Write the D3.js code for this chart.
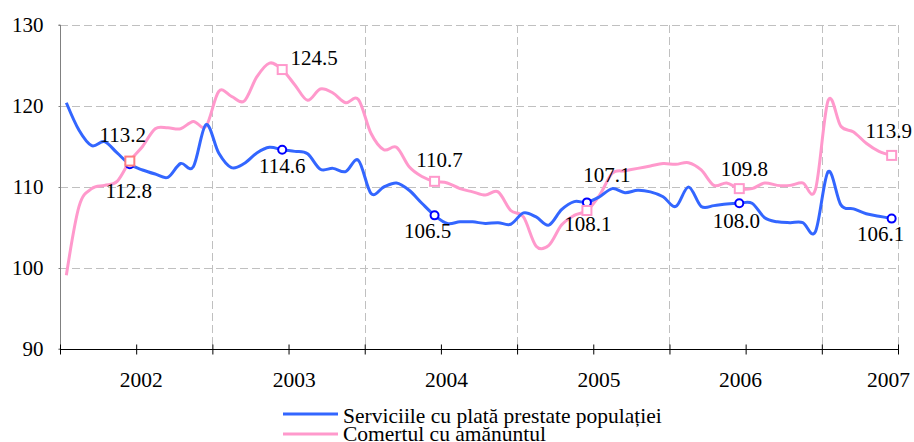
<!DOCTYPE html>
<html><head><meta charset="utf-8">
<script src="https://cdn.jsdelivr.net/npm/d3@7"></script>
<style>
body{margin:0;background:#fff;}
svg text{font-family:"Liberation Serif","Times New Roman",serif !important;fill:#000;}
</style>
</head><body>
<svg id="chart" width="914" height="442"></svg>
<script>
// ---- data ----
const serviceValues = [
  120.4,117.0,115.1,115.6,114.2,112.8,112.1,111.6,111.2,112.9,112.5,117.7,
  114.2,112.4,112.9,114.2,114.9,114.6,114.4,114.1,112.2,112.3,111.9,113.3,
  109.2,110.0,110.5,109.6,108.0,106.5,105.5,105.7,105.7,105.5,105.6,105.4,
  106.8,106.3,105.3,107.2,108.2,108.1,108.8,109.8,109.3,109.6,109.4,108.8,
  107.6,110.0,107.6,107.7,107.9,108.0,108.0,106.2,105.7,105.6,105.6,104.5,
  111.9,107.8,107.3,106.7,106.4,106.1
];
const retailValues = [
  99.1,107.6,109.8,110.2,110.7,113.2,115.0,117.2,117.3,117.2,118.1,117.5,
  121.8,121.2,120.6,123.6,125.3,124.5,122.6,120.7,122.1,121.6,120.4,120.8,
  116.6,114.6,114.9,112.5,111.3,110.7,110.5,109.8,109.4,109.0,109.4,107.1,
  106.3,102.7,102.8,105.3,106.5,107.1,109.0,111.7,112.0,112.3,112.6,112.9,
  112.8,113.0,112.1,110.2,110.5,109.8,109.8,110.5,110.2,110.2,110.5,109.7,
  120.7,117.5,116.8,115.4,114.4,113.9
];
const markerIndex = [5, 17, 29, 41, 53, 65];
const serviceLabels = ["112.8","114.6","106.5","108.1","108.0","106.1"];
const retailLabels  = ["113.2","124.5","110.7","107.1","109.8","113.9"];
const yearLabels = ["2002","2003","2004","2005","2006","2007"];
const yearLabelPos = [6.4, 18.45, 30.45, 42.45, 53.6, 65.25];
const yTicks = [90, 100, 110, 120, 130];
const seriesNames = ["Serviciile cu plată prestate populației", "Comertul cu amănuntul"];

// label placement offsets (px, relative to marker; baseline)
const serviceLabelOffset = [[-1,34],[0,23],[-7,23],[1,29],[-3,25],[-11,22]];
const retailLabelOffset  = [[-7,-19],[32,-5],[5,-14],[20,-28],[5,-13],[-3,-17]];

// ---- layout ----
const FONT = "'Liberation Serif', 'Times New Roman', serif";
const svg = d3.select("#chart");
const L = 60, R = 898, T = 25, B = 349;
const n = serviceValues.length;
const x = d3.scaleLinear().domain([0, n]).range([L, R]);
const xc = i => x(i + 0.5);
const y = d3.scaleLinear().domain([90, 130]).range([B, T]);

const blue = "#3366FF", pink = "#FF99CC";

// gridlines
const grid = svg.append("g").attr("stroke", "#C0C0C0").attr("stroke-width", 1)
  .attr("stroke-dasharray", "8,4").attr("fill", "none");
yTicks.filter(v => v > 90).forEach(v => {
  grid.append("line").attr("x1", L).attr("x2", R)
    .attr("y1", Math.round(y(v)) + 0.5).attr("y2", Math.round(y(v)) + 0.5);
});
d3.range(12, n + 1, 12).concat([n]).forEach(b => {
  grid.append("line").attr("x1", Math.round(x(b)) + 0.5).attr("x2", Math.round(x(b)) + 0.5)
    .attr("y1", T).attr("y2", B);
});

// y axis
const yAxis = d3.axisLeft(y).tickValues(yTicks).tickSize(2).tickPadding(15);
const gy = svg.append("g").attr("transform", `translate(${L + 0.5},0)`).call(yAxis)
  .attr("font-family", FONT);
gy.select(".domain").attr("stroke", "#808080").attr("d", `M-2,${T}H0V${B}H-2`);
gy.selectAll(".tick line").attr("stroke", "#808080");
gy.selectAll(".tick text").attr("font-size", 21).attr("font-family", FONT).attr("fill", "#000");

// x axis
const xAxis = d3.axisBottom(x).tickValues(d3.range(0, n + 1, 6)).tickSize(5).tickFormat("");
const gx = svg.append("g").attr("transform", `translate(0,${B + 0.5})`).call(xAxis);
gx.select(".domain").attr("stroke", "#000").attr("d", `M${L},0H${R}`);
gx.selectAll(".tick line").attr("stroke", "#000").attr("y1", -5).attr("y2", 5);
svg.append("g").selectAll("text").data(yearLabels).join("text")
  .attr("x", (d, i) => x(yearLabelPos[i])).attr("y", 387)
  .attr("text-anchor", "middle").attr("font-family", FONT).attr("font-size", 21.5).text(d => d);

// lines
const line = d3.line().x((d, i) => xc(i)).y(d => y(d)).curve(d3.curveCardinal.tension(0));
svg.append("path").datum(retailValues).attr("d", line)
  .attr("fill", "none").attr("stroke", pink).attr("stroke-width", 3);
svg.append("path").datum(serviceValues).attr("d", line)
  .attr("fill", "none").attr("stroke", blue).attr("stroke-width", 3);

// markers
svg.append("g").selectAll("circle").data(markerIndex).join("circle")
  .attr("cx", i => xc(i)).attr("cy", i => y(serviceValues[i])).attr("r", 4)
  .attr("fill", "#fff").attr("stroke", "#0000FF").attr("stroke-width", 2);
svg.append("g").selectAll("rect").data(markerIndex).join("rect")
  .attr("x", i => xc(i) - 4.5).attr("y", i => y(retailValues[i]) - 4.5)
  .attr("width", 9).attr("height", 9)
  .attr("fill", "#fff").attr("stroke", (i, k) => k === 0 ? "#FF7C80" : pink).attr("stroke-width", 2);

// data labels
svg.append("g").selectAll("text").data(markerIndex).join("text")
  .attr("x", (i, k) => xc(i) + serviceLabelOffset[k][0])
  .attr("y", (i, k) => y(serviceValues[i]) + serviceLabelOffset[k][1])
  .attr("text-anchor", "middle").attr("font-family", FONT).attr("font-size", 21)
  .text((i, k) => serviceLabels[k]);
svg.append("g").selectAll("text").data(markerIndex).join("text")
  .attr("x", (i, k) => xc(i) + retailLabelOffset[k][0])
  .attr("y", (i, k) => y(retailValues[i]) + retailLabelOffset[k][1])
  .attr("text-anchor", "middle").attr("font-family", FONT).attr("font-size", 21)
  .text((i, k) => retailLabels[k]);

// legend
const legend = svg.append("g");
[blue, pink].forEach((c, k) => {
  legend.append("line").attr("x1", 283).attr("x2", 338)
    .attr("y1", 414 + k * 20).attr("y2", 414 + k * 20)
    .attr("stroke", c).attr("stroke-width", 3);
  legend.append("text").attr("x", 343).attr("y", 423 + k * 17.5)
    .attr("font-family", FONT).attr("font-size", 21.5).text(seriesNames[k]);
});
</script>
</body></html>
